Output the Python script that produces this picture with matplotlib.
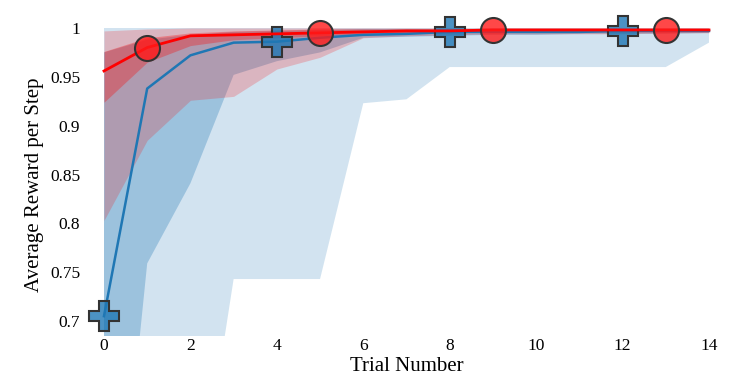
import matplotlib
matplotlib.use('Agg')
import matplotlib.pyplot as plt

plt.rcParams['font.family'] = ['Liberation Serif', 'DejaVu Serif']

trials = list(range(15))

# blue method: mean, inner band, outer (min/max) band
blue_mean = [0.705, 0.938, 0.972, 0.985, 0.986, 0.990, 0.993, 0.994, 0.996, 0.996, 0.996, 0.996, 0.997, 0.997, 0.997]
blue_inner_lo = [0.324, 0.759, 0.841, 0.952, 0.966, 0.975, 0.990, 0.991, 0.992, 0.993, 0.993, 0.994, 0.994, 0.994, 0.995]
blue_inner_hi = [0.975, 0.988, 0.993, 0.996, 0.997, 0.998, 0.999, 0.999, 0.999, 0.999, 0.999, 0.999, 0.999, 0.999, 0.999]
blue_outer_lo = [0.20, 0.30, 0.458, 0.743, 0.743, 0.743, 0.923, 0.927, 0.960, 0.960, 0.960, 0.960, 0.960, 0.960, 0.985]
blue_outer_hi = [1.0] * 15

# red method
red_mean = [0.956, 0.980, 0.992, 0.993, 0.994, 0.995, 0.996, 0.997, 0.997, 0.998, 0.998, 0.998, 0.998, 0.998, 0.998]
red_inner_lo = [0.924, 0.965, 0.982, 0.988, 0.990, 0.992, 0.994, 0.995, 0.995, 0.996, 0.996, 0.996, 0.996, 0.996, 0.996]
red_inner_hi = [0.976, 0.990, 0.995, 0.997, 0.998, 0.999, 0.999, 0.999, 0.999, 0.999, 0.999, 0.999, 0.999, 0.999, 0.999]
red_outer_lo = [0.803, 0.885, 0.926, 0.930, 0.958, 0.970, 0.990, 0.992, 0.993, 0.994, 0.994, 0.994, 0.994, 0.995, 0.995]
red_outer_hi = [0.997, 0.999, 1.0, 1.0, 1.0, 1.0, 1.0, 1.0, 1.0, 1.0, 1.0, 1.0, 1.0, 1.0, 1.0]

yticks = [0.7, 0.75, 0.8, 0.85, 0.9, 0.95, 1.0]
ytick_labels = ['0.7', '0.75', '0.8', '0.85', '0.9', '0.95', '1']

BLUE = '#1f77b4'
RED = '#ff0000'

fig = plt.figure(figsize=(7.47, 3.84), dpi=100)
ax = fig.add_axes([0.1392, 0.1258, 0.8099, 0.8013])

ax.fill_between(trials, blue_outer_lo, blue_outer_hi, color=BLUE, alpha=0.2, lw=0)
ax.fill_between(trials, blue_inner_lo, blue_inner_hi, color=BLUE, alpha=0.3, lw=0)
ax.plot(trials, blue_mean, color=BLUE, lw=1.8, marker='P', markersize=22,
        markevery=(0, 4), markerfacecolor=(0.122, 0.467, 0.706, 0.8),
        markeredgecolor='#333333', markeredgewidth=1.5, clip_on=False)

ax.fill_between(trials, red_outer_lo, red_outer_hi, color=RED, alpha=0.2, lw=0)
ax.fill_between(trials, red_inner_lo, red_inner_hi, color=RED, alpha=0.3, lw=0)
ax.plot(trials, red_mean, color=RED, lw=2, marker='o', markersize=18,
        markevery=(1, 4), markerfacecolor=(1.0, 0.1, 0.1, 0.8),
        markeredgecolor='#333333', markeredgewidth=1.5, clip_on=False)

ax.set_xlim(0, 14)
ax.set_ylim(0.685, 1.0)
ax.set_xticks(range(0, 15, 2))
ax.set_yticks(yticks)
ax.set_yticklabels(ytick_labels)
ax.tick_params(axis='both', length=0, labelsize=12.5)
ax.tick_params(axis='y', pad=17)
ax.tick_params(axis='x', pad=2)
for s in ax.spines.values():
    s.set_visible(False)

ax.set_xlabel('Trial Number', fontsize=15)
ax.set_ylabel('Average Reward per Step', fontsize=15)
ax.xaxis.set_label_coords(0.5, -0.068)
ax.yaxis.set_label_coords(-0.099, 0.49)

fig.savefig('out.png', dpi=100)
